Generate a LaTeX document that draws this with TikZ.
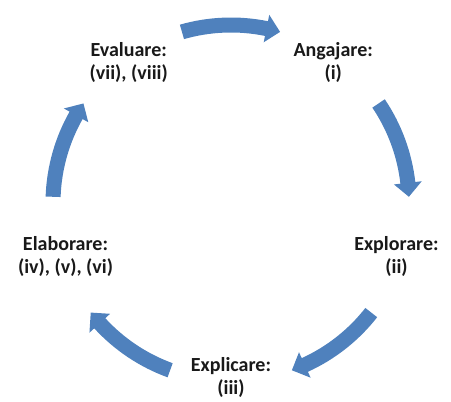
\documentclass[tikz,border=0pt]{standalone}
\usepackage{fontspec}
\setmainfont{Carlito}
\definecolor{arrowblue}{HTML}{4F81BD}
\newcommand\cyclearrow[1]{%
  \pgfmathsetmacro\ta{#1+16}%
  \pgfmathsetmacro\hb{#1-11.5}%
  \pgfmathsetmacro\tp{#1-16}%
  \fill[arrowblue] (\ta:{\R+\w}) arc[start angle=\ta, end angle=\hb, radius=\R+\w]
    -- (\hb:{\R+\h}) -- (\tp:\R) -- (\hb:{\R-\h}) -- (\hb:{\R-\w})
    arc[start angle=\hb, end angle=\ta, radius=\R-\w] -- cycle;}
\begin{document}
\begin{tikzpicture}[x=1pt,y=1pt,
  lbl/.style={font=\bfseries\fontsize{20}{23}\selectfont, align=center, text=black!90, inner sep=0pt}]
\useasboundingbox (0,0) rectangle (451,402);
\coordinate (c) at (231,199);
\def\R{178}\def\w{7.5}\def\h{14}\def\L{174}
\begin{scope}[shift={(c)}]
  \cyclearrow{90}
  \cyclearrow{18}
  \cyclearrow{-54}
  \cyclearrow{-126}
  \cyclearrow{162}
  \node[lbl] (ang) at (54:\L) {Angajare:\\(i)};
  \node[lbl] (expl) at (-18:\L) {Explorare:\\(ii)};
  \node[lbl] (expc) at (-90:\L) {Explicare:\\(iii)};
  \node[lbl] (elab) at (-162:\L) {Elaborare:\\(iv), (v), (vi)};
  \node[lbl] (eval) at (126:\L) {Evaluare:\\(vii), (viii)};
\end{scope}
\end{tikzpicture}
\end{document}
